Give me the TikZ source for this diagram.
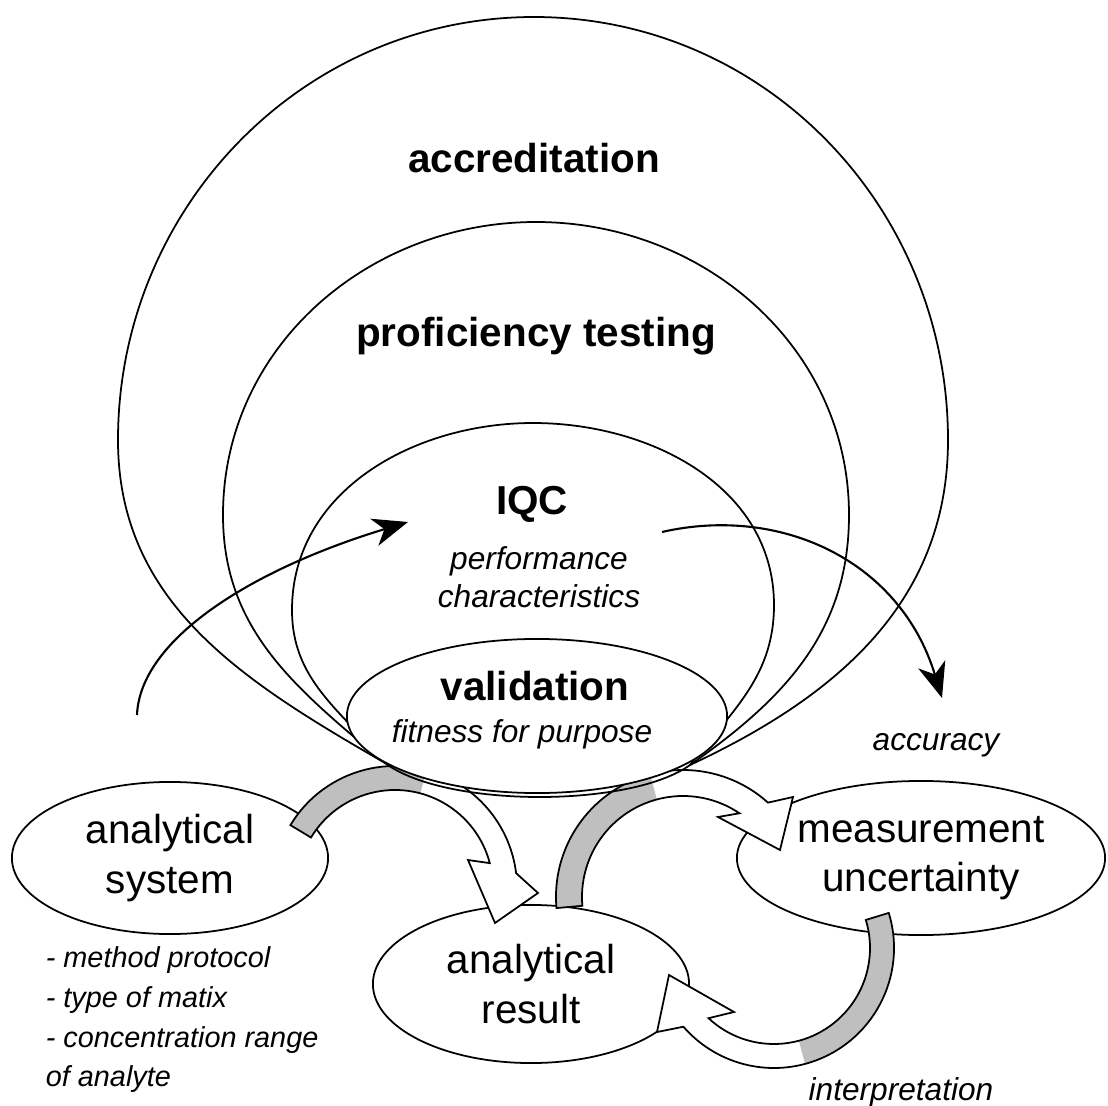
\documentclass[tikz,border=0pt]{standalone}
\usepackage{fontspec}
\setmainfont{Liberation Sans}
\usetikzlibrary{calc}
\usetikzlibrary{arrows.meta,shapes.geometric}

\begin{document}
\begin{tikzpicture}[x=0.01cm, y=0.01cm, line width=0.5pt,
    lbl/.style={font=\fontsize{11.5}{14}\selectfont\bfseries},
    txt/.style={font=\fontsize{11.5}{14}\selectfont, align=center},
    note/.style={font=\fontsize{9}{10.8}\selectfont\itshape},
    bubble/.style={draw, ellipse, fill=white, inner sep=0pt},
    band/.style={fill=black!25},
    flow/.style={-{Stealth[length=10pt,width=8pt,inset=3pt]}, line width=0.6pt}]
  \useasboundingbox (0,0) rectangle (1108,-1106);

  % the three stations of the cycle
  \node[bubble, txt, minimum width=3.16cm, minimum height=1.52cm] (sys) at (170,-858) {analytical\\system};
  \node[bubble, txt, minimum width=3.16cm, minimum height=1.58cm] (res) at (531,-984) {analytical\\result};
  \node[bubble, txt, minimum width=3.68cm, minimum height=1.54cm] (unc) at (921,-858) {measurement\\uncertainty};

  % block arrows, grey tail
  \coordinate (sysc) at (395,-888);
  \coordinate (resc) at (683,-897);
  \coordinate (uncc) at (774,-948);
  \fill[white] ($(sysc)+(149:122)$) arc[start angle=149, end angle=7, radius=122] -- (538,-893) -- (495,-923) -- (468,-860) -- ($(sysc)+(14.7:98)$) arc[start angle=14.7, end angle=149, radius=98] -- cycle;
  \fill[band] ($(sysc)+(149:122)$) arc[start angle=149, end angle=75, radius=122] -- ($(sysc)+(75:98)$) arc[start angle=75, end angle=149, radius=98] -- cycle;
  \draw ($(sysc)+(149:122)$) arc[start angle=149, end angle=7, radius=122] -- (538,-893) -- (495,-923) -- (468,-860) -- ($(sysc)+(14.7:98)$) arc[start angle=14.7, end angle=149, radius=98] -- cycle;

  \fill[white] ($(resc)+(185:127)$) arc[start angle=185, end angle=48, radius=127] -- (793,-797) -- (780,-850) -- (718,-817) -- ($(resc)+(56:101)$) arc[start angle=56, end angle=185, radius=101] -- cycle;
  \fill[band] ($(resc)+(185:127)$) arc[start angle=185, end angle=105, radius=127] -- ($(resc)+(105:101)$) arc[start angle=105, end angle=185, radius=101] -- cycle;
  \draw ($(resc)+(185:127)$) arc[start angle=185, end angle=48, radius=127] -- (793,-797) -- (780,-850) -- (718,-817) -- ($(resc)+(56:101)$) arc[start angle=56, end angle=185, radius=101] -- cycle;

  \fill[white] ($(uncc)+(17:120)$) arc[start angle=17, end angle=-139, radius=120] -- (657,-1032) -- (669,-975) -- (734,-1012) -- ($(uncc)+(-133:96)$) arc[start angle=-133, end angle=17, radius=96] -- cycle;
  \fill[band] ($(uncc)+(17:120)$) arc[start angle=17, end angle=-75, radius=120] -- ($(uncc)+(-75:96)$) arc[start angle=-75, end angle=17, radius=96] -- cycle;
  \draw ($(uncc)+(17:120)$) arc[start angle=17, end angle=-139, radius=120] -- (657,-1032) -- (669,-975) -- (734,-1012) -- ($(uncc)+(-133:96)$) arc[start angle=-133, end angle=17, radius=96] -- cycle;

  % nested domes
  \coordinate (lcusp) at (385,-763);
  \coordinate (rcusp) at (690,-765);
  \draw (lcusp) to[out=150,in=270] (118,-440) to[out=90,in=180] (534,-17) to[out=0,in=90] (948,-440) to[out=270,in=25] (rcusp) .. controls (630,-808) and (445,-808) .. (lcusp);
  \draw (lcusp) to[out=140,in=270] (223,-515) to[out=90,in=180] (536,-222) to[out=0,in=90] (849,-515) to[out=270,in=35] (rcusp);
  \draw (lcusp) to[out=130,in=270] (292,-610) to[out=90,in=180] (533,-423) to[out=0,in=90] (774,-605) to[out=270,in=52] (rcusp);
  \node[bubble, minimum width=3.8cm, minimum height=1.54cm] (val) at (537,-716) {};

  \node[lbl] (accr) at (534,-158) {accreditation};
  \node[lbl] (prof) at (536,-336) {proficiency testing};
  \node[lbl] (iqc) at (532,-504) {IQC};
  \node[note, align=center] (perf) at (539,-577) {performance\\characteristics};
  \node[lbl] (valtxt) at (535,-686) {validation};
  \node[note] (fit) at (522,-734) {fitness for purpose};

  % thin arrows
  \coordinate (fromsys) at (137,-715);
  \coordinate (toiqc) at (408,-522);
  \coordinate (fromiqc) at (662,-532);
  \coordinate (toacc) at (942,-698);
  \draw[flow] (fromsys) .. controls (140,-640) and (250,-570) .. (toiqc);
  \draw[flow] (fromiqc) .. controls (780,-505) and (900,-560) .. (toacc);

  \node[note] (acc) at (936,-745) {accuracy};
  \node[note] (interp) at (901,-1092) {interpretation};
  \node[note, font=\fontsize{8.2}{11.3}\selectfont\itshape, anchor=north west, align=left, inner sep=0pt] (props) at (45,-946)
    {- method protocol\\- type of matix\\- concentration range\\of analyte};
\end{tikzpicture}
\end{document}
